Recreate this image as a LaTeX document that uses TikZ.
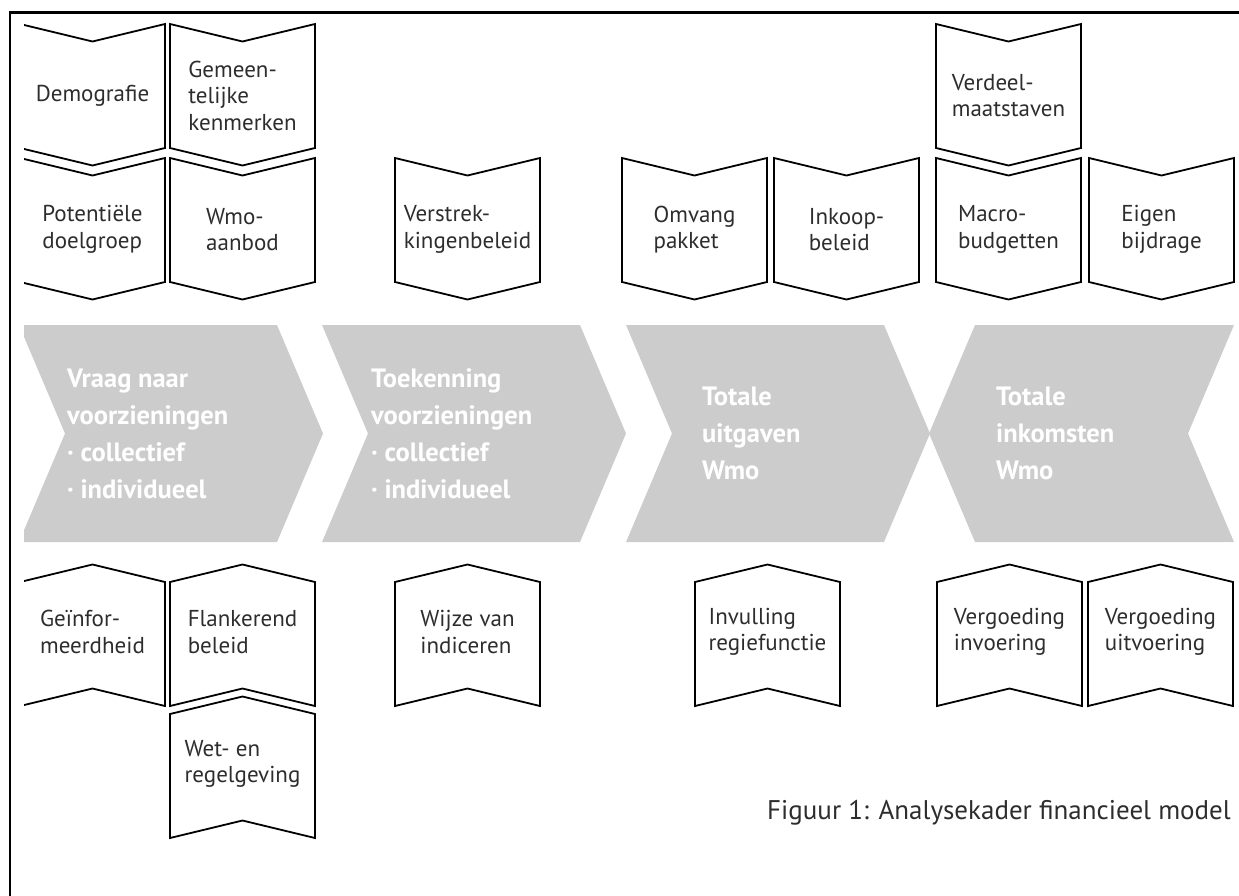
\documentclass[tikz,border=0pt]{standalone}
\usepackage{fontspec}
\setmainfont{PT Sans}
\definecolor{chevgrey}{RGB}{204,204,204}
\definecolor{inkgrey}{RGB}{45,45,45}
\tikzset{
    tagline/.style={draw=black, line width=1.8pt, line join=miter},
    tagtext/.style={align=left, text=inkgrey, inner sep=0, font=\fontsize{23}{26.5}\selectfont},
    chevtext/.style={align=left, text=white, inner sep=0, anchor=west, font=\bfseries\fontsize{26.5}{37}\selectfont},
    chevron/.style={fill=chevgrey}
}
% tag pointing down: name, left x, top y, text
\newcommand{\downtag}[4]{%
    \draw[tagline] (#2,#3) -- ++(72.5,17.5) -- ++(72.5,-17.5) -- ++(0,124)
        -- ++(-72.5,17.5) -- ++(-72.5,-17.5) -- cycle;
    \node[tagtext] (#1) at (#2+72.5,#3+71.5) {#4};
}
% tag pointing up: name, left x, top y, text
\newcommand{\uptag}[4]{%
    \draw[tagline] (#2,#3) -- ++(72.5,-17.5) -- ++(72.5,17.5) -- ++(0,124)
        -- ++(-72.5,-17.5) -- ++(-72.5,17.5) -- cycle;
    \node[tagtext] (#1) at (#2+72.5,#3+50) {#4};
}

\begin{document}
\begin{tikzpicture}[x=1pt, y=-1pt]
    \useasboundingbox (0,0) rectangle (1239,895);
    \draw[line width=2.4pt] (10,12.5) rectangle (1260,920);

    \begin{scope}
        \clip (24,0) rectangle (1239,895);
        % grey process arrows
        \foreach \x in {19,322,626}
            \fill[chevron] (\x,325) -- (\x+258,325) -- (\x+304,433.5) -- (\x+258,542)
                -- (\x,542) -- (\x+46,433.5) -- cycle;
        \fill[chevron] (975,325) -- (1234,325) -- (1188,433.5) -- (1234,542)
            -- (975,542) -- (929,433.5) -- cycle;
        \node[chevtext] (vraag) at (67,433.5) {Vraag naar\\voorzieningen\\· collectief\\· individueel};
        \node[chevtext] (toekenning) at (371,433.5) {Toekenning\\voorzieningen\\· collectief\\· individueel};
        \node[chevtext] (uitgaven) at (702,433.5) {Totale\\uitgaven\\Wmo};
        \node[chevtext] (inkomsten) at (996,433.5) {Totale\\inkomsten\\Wmo};

        % factors above
        \downtag{demografie}{20}{24}{Demografie}
        \downtag{gemeente}{170}{24}{Gemeen-\\telijke\\kenmerken}
        \downtag{verdeel}{936}{24}{Verdeel-\\maatstaven}
        \downtag{doelgroep}{20}{158}{Potentiële\\doelgroep}
        \downtag{aanbod}{170}{158}{Wmo-\\aanbod}
        \downtag{verstrek}{395}{158}{Verstrek-\\kingenbeleid}
        \downtag{omvang}{622}{158}{Omvang\\pakket}
        \downtag{inkoop}{774}{158}{Inkoop-\\beleid}
        \downtag{macro}{936}{158}{Macro-\\budgetten}
        \downtag{eigen}{1089}{158}{Eigen\\bijdrage}

        % factors below
        \uptag{geinformeerd}{20}{582}{Geïnfor-\\meerdheid}
        \uptag{flankerend}{170}{582}{Flankerend\\beleid}
        \uptag{indiceren}{395}{582}{Wijze van\\indiceren}
        \uptag{regie}{695}{582}{Invulling\\regiefunctie}
        \uptag{invoering}{937}{582}{Vergoeding\\invoering}
        \uptag{uitvoering}{1088}{582}{Vergoeding\\uitvoering}
        \uptag{regelgeving}{170}{714}{Wet- en\\regelgeving}
    \end{scope}

    \node[anchor=east, text=inkgrey, inner sep=0, font=\fontsize{27}{30}\selectfont]
        (caption) at (1231,813) {Figuur 1: Analysekader financieel model};
\end{tikzpicture}
\end{document}
